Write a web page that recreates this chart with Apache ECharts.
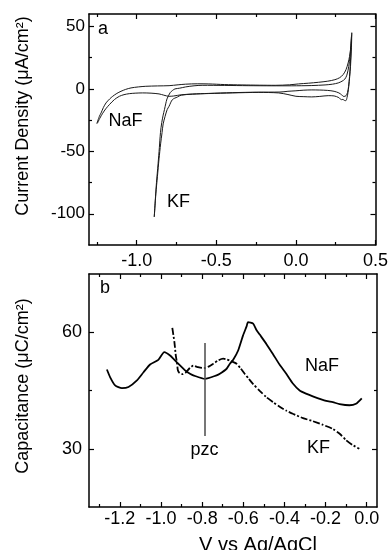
<!DOCTYPE html>
<html>
<head>
<meta charset="utf-8">
<script src="https://cdn.jsdelivr.net/npm/echarts@6/dist/echarts.min.js"></script>
<style>
html,body{margin:0;padding:0;background:#fff;}
#c{width:391px;height:550px;}
</style>
</head>
<body>
<div id="c"></div>
<script>
// ---------- Panel a: cyclic voltammograms ----------
const cvNaF_x = [-1.251,-1.235,-1.224,-1.21,-1.193,-1.17,-1.151,-1.125,-1.099,-1.07,-1.036,-0.99,-0.943,-0.87,-0.797,-0.74,-0.693,-0.62,-0.547,-0.45,-0.339,-0.23,-0.13,-0.04,0.016,0.08,0.141,0.2,0.245,0.275,0.297,0.315,0.328,0.337,0.343,0.348,0.351,
  0.350,0.347,0.343,0.338,0.332,0.327,0.321,0.314,0.305,0.295,0.286,0.27,0.24,0.203,0.15,0.099,0.05,0.0,-0.05,-0.109,-0.234,-0.4,-0.547,-0.65,-0.72,-0.77,-0.797,-0.83,-0.86,-0.91,-0.963,-1.01,-1.047,-1.08,-1.109,-1.14,-1.172,-1.195,-1.214,-1.232,-1.247];
const cvNaF_y = [-27.8,-22,-19.2,-15,-11.2,-8,-5.9,-3.6,-1.9,-0.4,0.8,1.6,2.1,2.4,2.6,3.3,3.8,4.1,4.0,3.5,3.2,3.0,2.9,3.3,4.0,4.6,5.3,6.2,7.4,9.0,11.5,15.5,20.8,26,31.5,38,45,
  38,28,18,10,2,-3,-7,-9.4,-9.2,-8.4,-8.6,-7,-5.6,-5.4,-6,-6.4,-6.2,-5.9,-4.5,-3.2,-2.8,-3.2,-3.7,-4.1,-4.7,-5.7,-5.9,-5.0,-4.0,-3.4,-3.2,-3.4,-3.8,-4.6,-5.9,-8.5,-12.6,-16,-19.5,-23.5,-27.5];

const cvKF_x = [-0.890,-0.884,-0.876,-0.866,-0.858,-0.851,-0.843,-0.834,-0.826,-0.818,-0.81,-0.79,-0.775,-0.76,-0.73,-0.693,-0.64,-0.589,-0.45,-0.3,-0.15,-0.026,0.1,0.183,0.23,0.266,0.29,0.307,0.32,0.332,0.34,0.345,0.349,
  0.346,0.342,0.337,0.331,0.324,0.315,0.303,0.297,0.288,0.27,0.24,0.2,0.15,0.1,0.05,0.0,-0.05,-0.1,-0.25,-0.4,-0.55,-0.65,-0.72,-0.745,-0.776,-0.797,-0.809,-0.822,-0.834,-0.841,-0.85,-0.86,-0.87,-0.88,-0.886,-0.890];
const cvKF_y = [-102.5,-90,-75,-60,-47,-35,-27,-21,-16.6,-12,-8,-3,-1.2,0,0.6,1.6,2.5,2.9,2.8,2.6,2.5,2.5,2.7,3.2,3.8,4.8,6.2,7.8,11,18,26,34,42,
  30,20,10,2,-3,-5.4,-6,-5.9,-4.8,-3.2,-1.9,-1.2,-0.9,-0.8,-1.0,-1.5,-1.9,-2.5,-2.6,-3.0,-3.6,-4.2,-5.0,-6.5,-8.6,-13.9,-16.6,-22,-28,-35,-44,-56,-70,-84,-95,-102.5];

const aXMajor = [-1.0,-0.5,0.0,0.5];
const aXMinor = [-1.25,-0.75,-0.25,0.25];
const aYMajor = [-100,-50,0,50];
const aYMinor = [-75,-25,25];

// ---------- Panel b: capacitance ----------
const capNaF_x = [-1.263,-1.247,-1.223,-1.19,-1.158,-1.117,-1.085,-1.053,-1.013,-0.984,-0.956,-0.924,-0.883,-0.859,-0.843,-0.786,-0.73,-0.714,-0.681,-0.665,-0.649,-0.625,-0.601,-0.584,-0.577,-0.552,-0.536,-0.52,-0.488,-0.456,-0.423,-0.391,-0.359,-0.326,-0.295,-0.262,-0.197,-0.165,-0.132,-0.084,-0.052,-0.024];
const capNaF_y = [50.4,48.4,46.3,45.6,45.9,47.6,49.7,51.7,52.9,54.9,54.0,52.3,50.2,49.3,48.9,48.0,48.9,49.3,50.6,51.9,52.9,55.3,59.2,61.5,62.6,62.2,60.6,59.4,57.0,54.4,51.6,49.3,46.8,45.0,44.2,43.5,42.3,42.0,41.5,41.2,41.6,43.0];

const capKF_x = [-0.945,-0.935,-0.928,-0.922,-0.918,-0.91,-0.895,-0.88,-0.86,-0.843,-0.82,-0.8,-0.786,-0.766,-0.746,-0.72,-0.698,-0.68,-0.665,-0.648,-0.633,-0.613,-0.593,-0.573,-0.553,-0.52,-0.488,-0.455,-0.423,-0.39,-0.359,-0.31,-0.262,-0.215,-0.165,-0.13,-0.1,-0.07,-0.036];
const capKF_y = [61.1,57.5,54,52,50.2,49.5,49.2,49.6,50.8,51.4,51.0,50.8,50.8,51.2,51.9,52.8,53.2,53.0,52.7,52.3,51.9,50.7,49.3,48.0,46.7,44.9,43.3,42.0,40.8,39.8,39.0,37.9,37.1,36.2,35.1,33.8,32.2,31.0,30.0];

const pzcX = -0.786;
const pzcY = [57.2, 33.3];

const bXMajor = [-1.2,-1.0,-0.8,-0.6,-0.4,-0.2,0.0];
const bXMinor = [-1.3,-1.1,-0.9,-0.7,-0.5,-0.3,-0.1];
const bYMajor = [30,60];
const bYMinor = [45];

const FONT = "'Liberation Sans', Arial, Helvetica, sans-serif";

function zip(xs, ys){ return xs.map((x,i)=>[x, ys[i]]); }

function axisSet(dir, grid, min, max, major, minor, lab){
  const posA = dir==='x' ? 'bottom' : 'left';
  const posB = dir==='x' ? 'top' : 'right';
  const base = {type:'value', gridIndex:grid, min:min, max:max, splitLine:{show:false}, scale:false};
  const line = {show:true, onZero:false, lineStyle:{color:'#000', width:1.5}};
  const mk = (pos, vals, len, showLine, label) => Object.assign({}, base, {
    position: pos,
    axisLine: showLine ? line : {show:false, onZero:false},
    axisTick: {show:true, inside:true, length:len, customValues: vals, lineStyle:{color:'#000', width:1.2}},
    axisLabel: label ? Object.assign({show:true, customValues: vals}, label) : {show:false}
  });
  return [
    mk(posA, major, 5, true, lab),
    mk(posA, minor, 3, false, null),
    mk(posB, major, 5, true, null),
    mk(posB, minor, 3, false, null)
  ];
}

const xAxes = [].concat(
  axisSet('x', 0, -1.3, 0.5, aXMajor, aXMinor, {margin:7, color:'#000', fontSize:18, fontFamily:FONT, formatter:v=>v.toFixed(1)}),
  axisSet('x', 1, -1.35, 0.05, bXMajor, bXMinor, {margin:3, color:'#000', fontSize:18, fontFamily:FONT, formatter:v=>(Math.abs(v)<1e-9?0:v).toFixed(1)})
);
const yAxes = [].concat(
  axisSet('y', 0, -125, 60, aYMajor, aYMinor, {margin:4, color:'#000', fontSize:17, fontFamily:FONT, formatter:v=>String(Math.round(v))}),
  axisSet('y', 1, 15, 75, bYMajor, bYMinor, {margin:7, color:'#000', fontSize:18, fontFamily:FONT, formatter:v=>String(Math.round(v))})
);

function txt(t, x, y, size, rot){
  return {type:'text', x:x, y:y, rotation: rot||0,
    style:{text:t, fill:'#000', font: size+'px '+FONT, textAlign:'center', textVerticalAlign:'middle'}};
}

const cvStyle = {color:'#1a1a1a', width:1};

const option = {
  animation:false,
  backgroundColor:'#fff',
  grid:[
    {left:89, top:14, width:288, height:231, containLabel:false},
    {left:89, top:274, width:288, height:233, containLabel:false}
  ],
  xAxis: xAxes,
  yAxis: yAxes,
  series:[
    {type:'line', xAxisIndex:0, yAxisIndex:0, data:zip(cvNaF_x, cvNaF_y), showSymbol:false, smooth:0.3, lineStyle:cvStyle, silent:true},
    {type:'line', xAxisIndex:0, yAxisIndex:0, data:zip(cvKF_x, cvKF_y), showSymbol:false, smooth:0.3, lineStyle:cvStyle, silent:true},
    {type:'line', xAxisIndex:4, yAxisIndex:4, data:zip(capNaF_x, capNaF_y), showSymbol:false, smooth:0.2, lineStyle:{color:'#000', width:1.8}, silent:true,
      markLine:{silent:true, symbol:['none','none'], label:{show:false}, lineStyle:{color:'#555', width:1.6, type:'solid'},
        data:[[{coord:[pzcX, pzcY[0]]},{coord:[pzcX, pzcY[1]]}]]}},
    {type:'line', xAxisIndex:4, yAxisIndex:4, data:zip(capKF_x, capKF_y), showSymbol:false, smooth:0.2, lineStyle:{color:'#000', width:1.8, type:[7,2,2,2]}, silent:true}
  ],
  graphic:[
    txt('Current Density (μA/cm²)', 23, 116, 18, Math.PI/2),
    txt('Capacitance (μC/cm²)', 23, 386, 18, Math.PI/2),
    txt('a', 103, 29, 18),
    txt('NaF', 125.5, 121.5, 18),
    txt('KF', 178.5, 202.5, 18),
    txt('b', 105, 288.5, 18),
    txt('pzc', 204.5, 450, 18),
    txt('NaF', 322, 366.5, 18),
    txt('KF', 318.5, 448.5, 18),
    txt('V vs Ag/AgCl', 258, 545, 20)
  ]
};

const chart = echarts.init(document.getElementById('c'), null, {renderer:'canvas'});
chart.setOption(option);
</script>
</body>
</html>
